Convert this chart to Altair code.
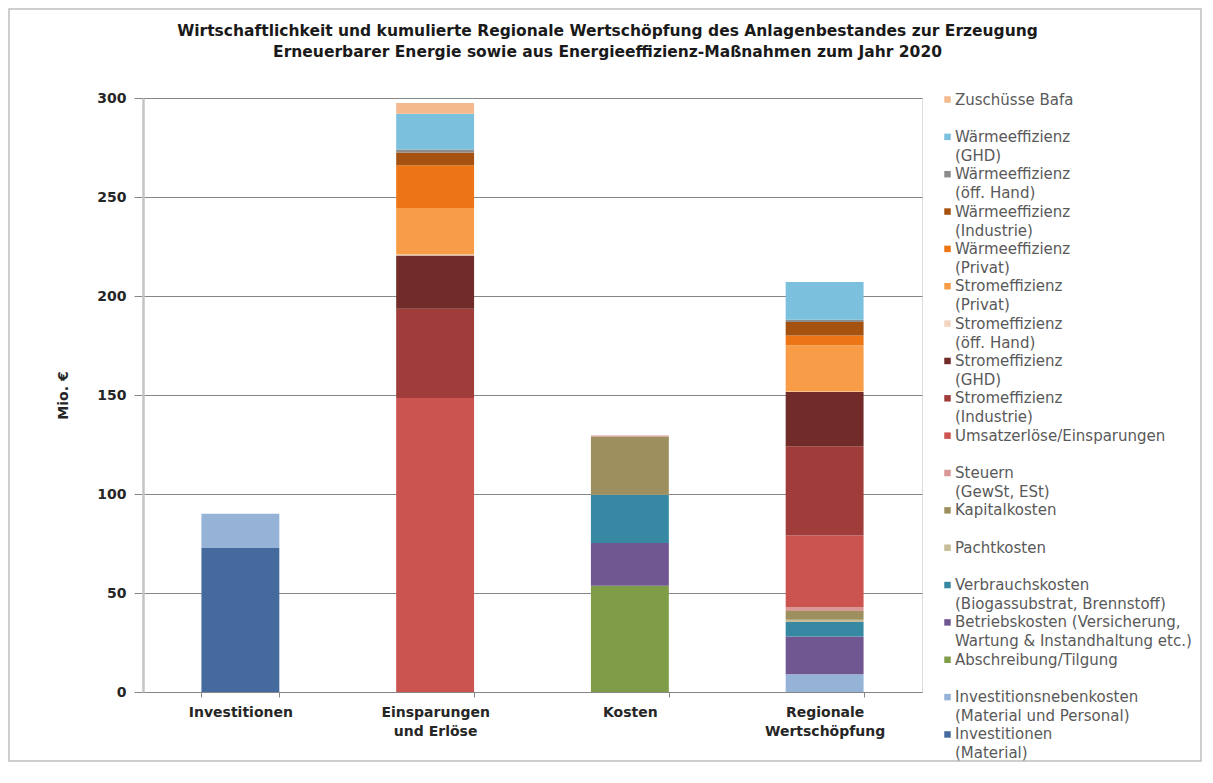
import altair as alt
import pandas as pd

# Categories on the x axis ("|" marks a line break in the label)
categories = ["Investitionen", "Einsparungen|und Erlöse", "Kosten", "Regionale|Wertschöpfung"]

# Series in stacking order (bottom -> top)
series = [
    "Investitionen|(Material)",
    "Investitionsnebenkosten|(Material und Personal)",
    "Abschreibung/Tilgung",
    "Betriebskosten (Versicherung,|Wartung & Instandhaltung etc.)",
    "Verbrauchskosten|(Biogassubstrat, Brennstoff)",
    "Pachtkosten",
    "Kapitalkosten",
    "Steuern|(GewSt, ESt)",
    "Umsatzerlöse/Einsparungen",
    "Stromeffizienz|(Industrie)",
    "Stromeffizienz|(GHD)",
    "Stromeffizienz|(öff. Hand)",
    "Stromeffizienz|(Privat)",
    "Wärmeeffizienz|(Privat)",
    "Wärmeeffizienz|(Industrie)",
    "Wärmeeffizienz|(öff. Hand)",
    "Wärmeeffizienz|(GHD)",
    "Zuschüsse Bafa",
]

series_colors = [
    "#456B9E", "#95B3D7", "#7F9C48", "#715791", "#3789A3", "#C4BD97",
    "#9E8F5E", "#D99795", "#CC5450", "#A03D3B", "#712B29", "#F2D5C0",
    "#F89C48", "#EC7515", "#A5510F", "#8C8C8C", "#7BC0DD", "#F5B98E",
]

# Values (Mio. €) per category, aligned with `series`
investitionen = [73, 17, 0, 0, 0, 0, 0, 0, 0, 0, 0, 0, 0, 0, 0, 0, 0, 0]
einsparungen = [0, 0, 0, 0, 0, 0, 0, 0, 148.5, 45, 27, 0.5, 23.5, 21.5, 6.5, 1.5, 18, 5.5]
kosten = [0, 0, 53.7, 21.6, 24.2, 0.3, 29.2, 0.5, 0, 0, 0, 0, 0, 0, 0, 0, 0, 0]
regional = [0, 9, 0, 19, 7.4, 1.1, 4.4, 2, 36.2, 45, 27.4, 0.3, 23.3, 5, 6.8, 1.1, 19.1, 0]

y_ticks = [0, 50, 100, 150, 200, 250, 300]

rows = []
for cat, vals in zip(categories, [investitionen, einsparungen, kosten, regional]):
    for i, (s, v) in enumerate(zip(series, vals)):
        if v > 0:
            rows.append({"Kategorie": cat, "Reihe": s, "Wert": v, "Ordnung": i})
df = pd.DataFrame(rows)

legend_order = series[::-1]
legend_colors = series_colors[::-1]

FONT = "DejaVu Sans"

bars = alt.Chart(df).mark_bar(strokeWidth=0).encode(
    x=alt.X(
        "Kategorie:N",
        sort=categories,
        scale=alt.Scale(paddingInner=0.6, paddingOuter=0.3),
        axis=alt.Axis(
            title=None,
            labelExpr="split(datum.label, '|')",
            labelAngle=0,
            labelFont=FONT,
            labelFontSize=14,
            labelFontWeight="bold",
            labelColor="#262626",
            labelPadding=8,
            tickBand="extent",
            tickSize=5,
            tickColor="#868686",
            domainColor="#868686",
            domainWidth=1,
            grid=False,
        ),
    ),
    y=alt.Y(
        "Wert:Q",
        stack="zero",
        scale=alt.Scale(domain=[0, 300], nice=False),
        axis=alt.Axis(
            values=y_ticks,
            title="Mio. €",
            titleFont=FONT,
            titleFontSize=14,
            titleFontWeight="bold",
            titleColor="#262626",
            titlePadding=26,
            labelFont=FONT,
            labelFontSize=14,
            labelFontWeight="bold",
            labelColor="#262626",
            labelPadding=8,
            tickSize=9,
            tickColor="#868686",
            domainColor="#C4C4C4",
            domainWidth=2.5,
            grid=True,
            gridColor="#868686",
            gridWidth=1,
        ),
    ),
    color=alt.Color(
        "Reihe:N",
        scale=alt.Scale(domain=legend_order, range=legend_colors),
        legend=alt.Legend(
            title=None,
            orient="none",
            legendX=797,
            legendY=-6,
            symbolType="square",
            symbolSize=42,
            symbolStrokeWidth=0,
            labelFont=FONT,
            labelFontSize=15,
            labelColor="#595959",
            labelExpr="split(datum.label + (indexof(datum.label, '|') < 0 ? '|' : ''), '|')",
            labelBaseline="middle",
            labelLimit=400,
            labelOffset=0,
            rowPadding=2.35,
        ),
    ),
    order=alt.Order("Ordnung:Q", sort="ascending"),
)

frame = alt.Chart(pd.DataFrame({"f": [0]})).mark_rect(
    fillOpacity=0, stroke="#BFBFBF", strokeWidth=1.5
).encode(
    x=alt.value(-134),
    x2=alt.value(1058),
    y=alt.value(-89),
    y2=alt.value(663),
)

chart = alt.layer(frame, bars).properties(
    width=779,
    height=594,
    autosize=alt.AutoSizeParams(type="none"),
    padding={"left": 135, "top": 90, "right": 281, "bottom": 71},
    title=alt.Title(
        [
            "Wirtschaftlichkeit und kumulierte Regionale Wertschöpfung des Anlagenbestandes zur Erzeugung",
            "Erneuerbarer Energie sowie  aus Energieeffizienz-Maßnahmen zum Jahr 2020",
        ],
        font=FONT,
        fontSize=15.5,
        fontWeight="bold",
        color="#1a1a1a",
        anchor="middle",
        frame="group",
        dx=75,
        dy=52,
        offset=0,
        lineHeight=21,
    ),
).configure_view(stroke=None).configure(
    background="white",
    style={"guide-label": {"lineHeight": 19}},
)

chart.save("out.html", embed_options={"renderer": "svg", "actions": False})
